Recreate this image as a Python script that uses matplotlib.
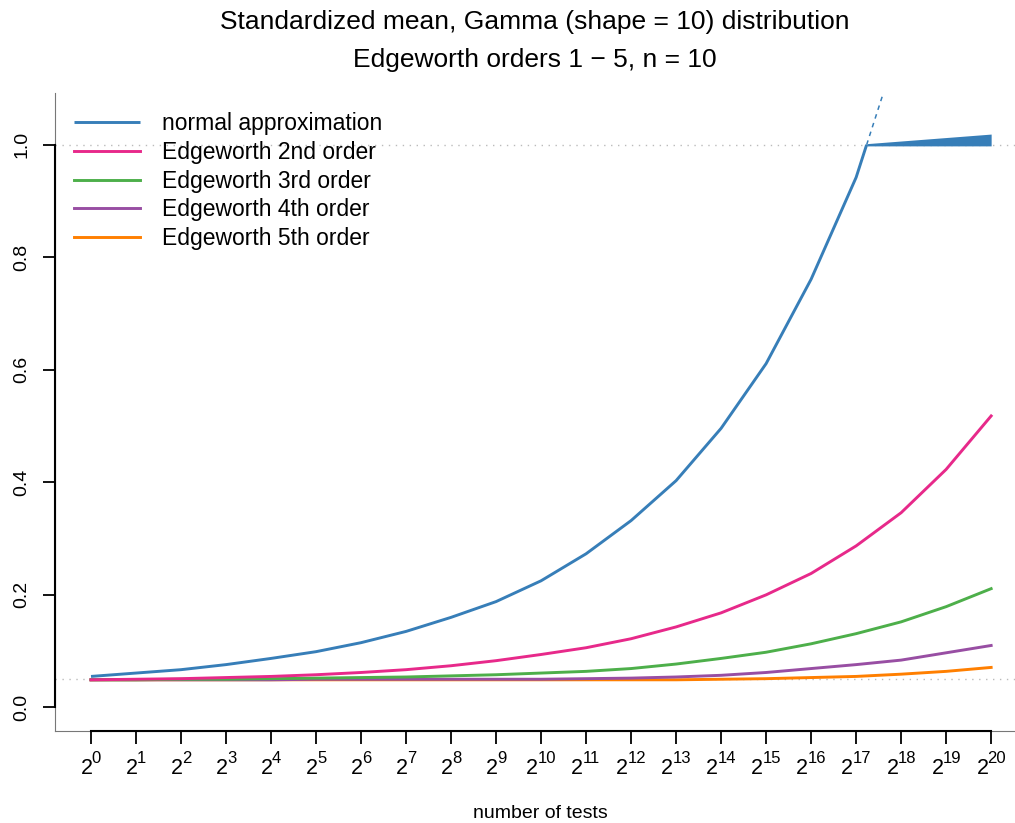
import numpy as np
import matplotlib
matplotlib.use("Agg")
import matplotlib.pyplot as plt

plt.rcParams['font.family'] = ['Liberation Sans', 'DejaVu Sans']

# exponents k: number of tests = 2^k
exponents = list(range(0, 21))
tick_base = "2"
tick_powers = [str(k) for k in exponents]

normal_approx = [0.055, 0.061, 0.067, 0.076, 0.087, 0.099, 0.115, 0.135, 0.160,
                 0.188, 0.225, 0.273, 0.332, 0.403, 0.496, 0.611, 0.761, 0.942, 1.19]
edgeworth2 = [0.049, 0.050, 0.051, 0.053, 0.055, 0.058, 0.062, 0.067, 0.074, 0.083,
              0.094, 0.106, 0.122, 0.143, 0.168, 0.200, 0.238, 0.287, 0.346, 0.423, 0.518]
edgeworth3 = [0.049, 0.049, 0.050, 0.050, 0.051, 0.052, 0.053, 0.054, 0.056, 0.058,
              0.061, 0.064, 0.069, 0.077, 0.087, 0.098, 0.113, 0.131, 0.152, 0.179, 0.211]
edgeworth4 = [0.049, 0.049, 0.049, 0.049, 0.049, 0.050, 0.050, 0.050, 0.050, 0.050,
              0.050, 0.051, 0.052, 0.054, 0.057, 0.062, 0.069, 0.076, 0.084, 0.097, 0.110]
edgeworth5 = [0.049, 0.049, 0.049, 0.049, 0.049, 0.049, 0.049, 0.049, 0.049, 0.049,
              0.049, 0.049, 0.049, 0.049, 0.050, 0.051, 0.053, 0.055, 0.059, 0.064, 0.071]

# band drawn where the normal approximation leaves the plotted range
wedge_x = [17.24, 20]
wedge_low = [0.998, 0.998]
wedge_high = [1.002, 1.019]

alpha_level = 0.05
upper_level = 1.0

series = [
    ("normal approximation", normal_approx, "#377EB8"),
    ("Edgeworth 2nd order", edgeworth2, "#E7298A"),
    ("Edgeworth 3rd order", edgeworth3, "#4DAF4A"),
    ("Edgeworth 4th order", edgeworth4, "#984EA3"),
    ("Edgeworth 5th order", edgeworth5, "#FF7F00"),
]

fig = plt.figure(figsize=(10.15, 8.23), dpi=100)
ax = fig.add_axes([55/1015, 92/823, 960/1015, 638/823])

ax.axhline(alpha_level, color="#BBBBBB", lw=1.0, ls=(0, (1, 4)), zorder=1)
ax.axhline(upper_level, color="#BBBBBB", lw=1.0, ls=(0, (1, 4)), zorder=1)

lw = 2.1
handles = []
for name, vals, col in series[::-1]:
    if name == "normal approximation":
        v = np.array(vals)
        x = np.arange(len(v))
        idx = np.argmax(v >= upper_level)
        xc = x[idx-1] + (upper_level - v[idx-1]) / (v[idx] - v[idx-1])
        xs = np.concatenate([x[:idx], [xc]])
        ys = np.concatenate([v[:idx], [upper_level]])
        h, = ax.plot(xs, ys, color=col, lw=lw, solid_capstyle='butt', zorder=3)
        ax.plot([xc, x[idx]], [upper_level, v[idx]], color=col, lw=1.1,
                ls=(0, (3, 3)), zorder=3)
        ax.fill_between(wedge_x, wedge_low, wedge_high, color=col, lw=0, zorder=3)
    else:
        h, = ax.plot(exponents, vals, color=col, lw=lw, zorder=3)
    handles.append((name, h))
handles = handles[::-1]

ax.set_xlim(-0.8, 20.53)
ax.set_ylim(-0.042, 1.092)

ax.set_xticks(exponents)
ax.set_xticklabels([])
base_fs = 15.5
sup_fs = 12.0
base_w = 0.556 * base_fs * 100 / 72
digit_w = 0.556 * sup_fs * 100 / 72
for k, p in zip(exponents, tick_powers):
    total = base_w + digit_w * len(p) - 1
    left = -total / 2
    ax.annotate(tick_base, xy=(k, 0), xycoords=('data', 'axes fraction'),
                xytext=(left, -43), textcoords='offset pixels',
                ha='left', va='baseline', fontsize=base_fs, annotation_clip=False)
    ax.annotate(p, xy=(k, 0), xycoords=('data', 'axes fraction'),
                xytext=(left + base_w - 1, -32), textcoords='offset pixels',
                ha='left', va='baseline', fontsize=sup_fs, annotation_clip=False)

ax.set_yticks([0.0, 0.2, 0.4, 0.6, 0.8, 1.0])
ax.set_yticklabels(["0.0", "0.2", "0.4", "0.6", "0.8", "1.0"], fontsize=14,
                   rotation=90, va='center')
ax.tick_params(axis='both', length=9, width=1.3, color='black')
ax.tick_params(axis='y', pad=9)

for s in ['top', 'right']:
    ax.spines[s].set_visible(False)
ax.spines['left'].set_bounds(0, 1)
ax.spines['bottom'].set_bounds(0, 20)
ax.spines['left'].set_linewidth(1.5)
ax.spines['bottom'].set_linewidth(1.5)
ax.plot([0, 0], [0, 1], transform=ax.transAxes, color='#777777', lw=0.8, clip_on=False, zorder=0)
ax.plot([0, 1], [0, 0], transform=ax.transAxes, color='#777777', lw=0.8, clip_on=False, zorder=0)

ax.legend([h for _, h in handles], [n for n, _ in handles], loc='upper left',
          bbox_to_anchor=(0.003, 0.995), frameon=False, fontsize=16.5,
          handlelength=2.9, handletextpad=0.95, labelspacing=0.25, borderaxespad=0.3)

fig.text(535/1015, 1 - 22/823, "Standardized mean, Gamma (shape = 10) distribution",
         ha='center', va='center', fontsize=19)
fig.text(535/1015, 1 - 60/823, "Edgeworth orders 1 \u2212 5, n = 10",
         ha='center', va='center', fontsize=19)
fig.text(540/1015, 1 - 814/823, "number of tests", ha='center', va='center', fontsize=14)

fig.savefig("out.png", dpi=100)
